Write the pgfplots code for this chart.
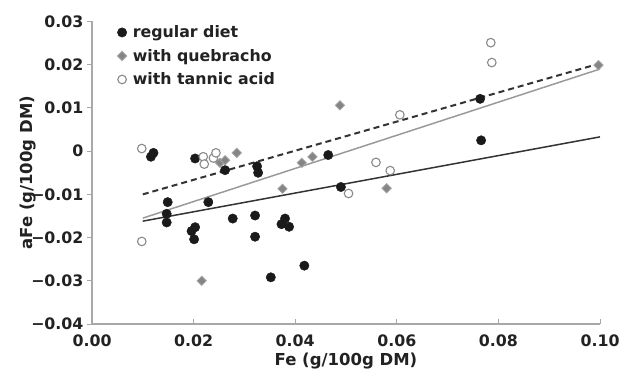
\documentclass[border=0pt]{standalone}
\usepackage{fontspec}
\setmainfont{DejaVu Sans}
\usepackage{pgfplots}
\pgfplotsset{compat=1.18}
\definecolor{txt}{HTML}{222222}
\definecolor{axgray}{HTML}{A8A8A8}
\definecolor{dotblack}{HTML}{1A1A1A}
\definecolor{diafill}{HTML}{858585}
\definecolor{diaedge}{HTML}{A5A5A5}
\definecolor{opengray}{HTML}{8A8A8A}
\definecolor{linegray}{HTML}{9A9A9A}
\definecolor{linedark}{HTML}{333333}
\begin{document}
\begin{tikzpicture}
\useasboundingbox (0,0) rectangle (620bp,373bp);
\begin{axis}[
  at={(92bp,49bp)}, anchor=south west,
  scale only axis, width=508bp, height=302.5bp,
  xmin=0, xmax=0.1, ymin=-0.04, ymax=0.03,
  axis x line=bottom, axis y line=left,
  axis line style={-, draw=axgray, line width=1.3bp},
  clip=false,
  scaled ticks=false,
  xtick={0,0.02,0.04,0.06,0.08,0.1},
  xticklabels={0.00,0.02,0.04,0.06,0.08,0.10},
  ytick={-0.04,-0.03,-0.02,-0.01,0,0.01,0.02,0.03},
  yticklabels={−0.04,−0.03,−0.02,−0.01,0,0.01,0.02,0.03},
  tick align=outside,
  major tick length=5bp,
  tick style={draw=axgray, line width=1bp},
  x tick style={yshift=5bp},
  tick label style={font=\bfseries\fontsize{15.8bp}{18bp}\selectfont, text=txt},
  x tick label style={yshift=-2.5bp},
  xlabel={Fe (g/100g DM)},
  ylabel={aFe (g/100g DM)},
  ylabel shift={-12bp},
  xlabel shift={-1bp},
  label style={font=\bfseries\fontsize{16.5bp}{19bp}\selectfont, text=txt},
  legend style={draw=none, fill=none, at={(0.0496,0.99)}, anchor=north west,
    font=\bfseries\fontsize{15.8bp}{18bp}\selectfont, text=txt,
    nodes={inner sep=1bp}, row sep=8bp, inner sep=0pt,
    /tikz/every odd column/.append style={column sep=5bp}},
  legend cell align=left,
  legend image code/.code={\draw[#1] plot coordinates {(4.5bp,0bp)};},
]
\addplot[only marks, mark=*, mark size=4.7bp, draw=dotblack, fill=dotblack] coordinates {
(0.0116,-0.0013) (0.0121,-0.0004) (0.0203,-0.0017) (0.0262,-0.0044)
(0.0325,-0.0035) (0.0327,-0.0050) (0.0465,-0.0009) (0.0149,-0.0118)
(0.0147,-0.0145) (0.0147,-0.0165) (0.0229,-0.0118) (0.0203,-0.0176)
(0.0196,-0.0185) (0.0201,-0.0204) (0.0277,-0.0156) (0.0321,-0.0149)
(0.0380,-0.0156) (0.0373,-0.0169) (0.0388,-0.0175) (0.0321,-0.0198)
(0.0352,-0.0292) (0.0418,-0.0265) (0.0490,-0.0083) (0.0764,0.0121)
(0.0766,0.0025)
};
\addlegendentry{regular diet}
\addplot[only marks, mark=square*, mark size=3.3bp, mark options={rotate=45, draw=diaedge, fill=diafill, line width=0.8bp}] coordinates {
(0.0216,-0.0300) (0.0252,-0.0027) (0.0262,-0.0021) (0.0285,-0.0004)
(0.0375,-0.0087) (0.0413,-0.0027) (0.0434,-0.0013) (0.0488,0.0106)
(0.0580,-0.0086) (0.0997,0.0199)
};
\addlegendentry{with quebracho}
\addplot[only marks, mark=*, mark size=4.3bp, mark options={draw=opengray, fill=white, line width=1.1bp}] coordinates {
(0.0098,0.0006) (0.0098,-0.0209) (0.0219,-0.0013) (0.0221,-0.0030)
(0.0239,-0.0016) (0.0244,-0.0004) (0.0505,-0.0098) (0.0559,-0.0026)
(0.0587,-0.0045) (0.0606,0.0084) (0.0785,0.0251) (0.0787,0.0205)
};
\addlegendentry{with tannic acid}
\addplot[forget plot, no marks, draw=linedark, line width=1.5bp] coordinates {(0.01,-0.0162) (0.1,0.0033)};
\addplot[forget plot, no marks, draw=linegray, line width=1.5bp] coordinates {(0.01,-0.0155) (0.1,0.0190)};
\addplot[forget plot, no marks, draw=linedark, line width=2bp, dash pattern=on 6bp off 4bp] coordinates {(0.01,-0.0100) (0.1,0.0203)};
\end{axis}
\end{tikzpicture}
\end{document}
